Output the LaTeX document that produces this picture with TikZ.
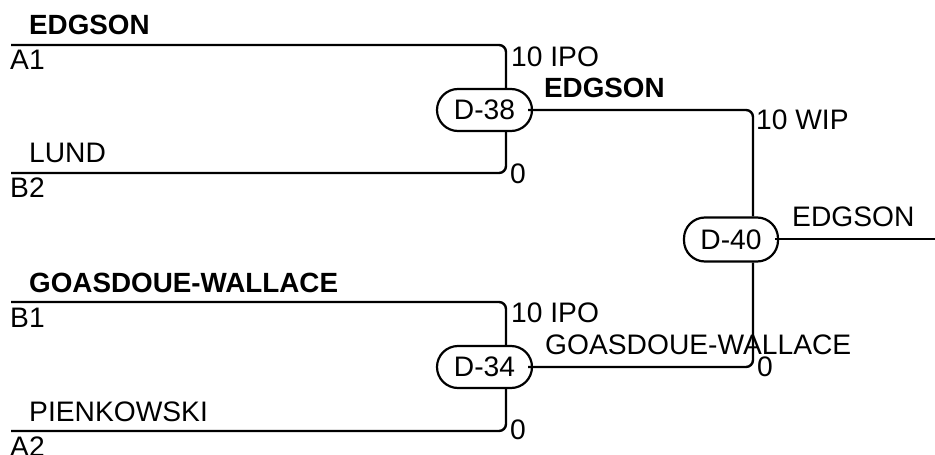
\documentclass[tikz,border=0pt]{standalone}
\usepackage{fontspec}
\setmainfont{Liberation Sans}
\begin{document}
\begin{tikzpicture}[x=1pt,y=-1pt,
  wire/.style={line width=2.4pt, rounded corners=7pt},
  lbl/.style={anchor=west, inner sep=0pt, font=\fontsize{28.2}{33}\selectfont},
  blbl/.style={lbl, font=\fontsize{27.8}{33}\selectfont\bfseries},
  match/.style={draw, line width=2.2pt, fill=white, rounded corners=21pt,
    minimum width=95pt, minimum height=42pt, inner sep=0pt,
    font=\fontsize{28.2}{33}\selectfont}]
\useasboundingbox (0,0) rectangle (935,455);
% coordinates
\coordinate (a1s) at (11,45);   \coordinate (a1c) at (506,45);
\coordinate (b2s) at (11,173);  \coordinate (b2c) at (506,173);
\coordinate (b1s) at (11,302);  \coordinate (b1c) at (506,302);
\coordinate (a2s) at (11,431);  \coordinate (a2c) at (506,431);
\coordinate (c38) at (753,110);
\coordinate (c34) at (753,367);
\coordinate (out) at (935,239);
% match nodes
\node[match] (D38) at (484.5,110) {D-38};
\node[match, minimum width=94pt, minimum height=44pt] (D40) at (731,239.5) {D-40};
\node[match] (D34) at (484.5,367) {D-34};
% wires
\draw[wire] (a1s) -- (a1c) -- (a1c |- D38.north);
\draw[wire] (b2s) -- (b2c) -- (b2c |- D38.south);
\draw[wire] (b1s) -- (b1c) -- (b1c |- D34.north);
\draw[wire] (a2s) -- (a2c) -- (a2c |- D34.south);
\draw[wire] ([xshift=-5pt]D38.east) -- (c38) -- (c38 |- D40.north);
\draw[wire] ([xshift=-5pt]D34.east) -- (c34) -- (c34 |- D40.south);
\draw[wire] ([xshift=-4pt]D40.east |- out) -- (out);
% labels
\node[blbl] (t1) at (29,25) {EDGSON};
\node[lbl] (t2) at (10,60) {A1};
\node[lbl] (t3) at (29,153) {LUND};
\node[lbl] (t4) at (10,188) {B2};
\node[blbl] (t5) at (29,283) {GOASDOUE-WALLACE};
\node[lbl] (t6) at (10,318) {B1};
\node[lbl] (t7) at (29,412) {PIENKOWSKI};
\node[lbl] (t8) at (10,447) {A2};
\node[lbl] (s1) at (511,57) {10 IPO};
\node[lbl] (s2) at (510,173.5) {0};
\node[blbl] (s3) at (544,88) {EDGSON};
\node[lbl] (s4) at (756,120) {10 WIP};
\node[lbl] (s5) at (511,313) {10 IPO};
\node[lbl] (s6) at (510,430) {0};
\node[lbl] (s7) at (545,345) {GOASDOUE-WALLACE};
\node[lbl] (s8) at (757,367) {0};
\node[lbl] (s9) at (792,216.5) {EDGSON};
\end{tikzpicture}
\end{document}
